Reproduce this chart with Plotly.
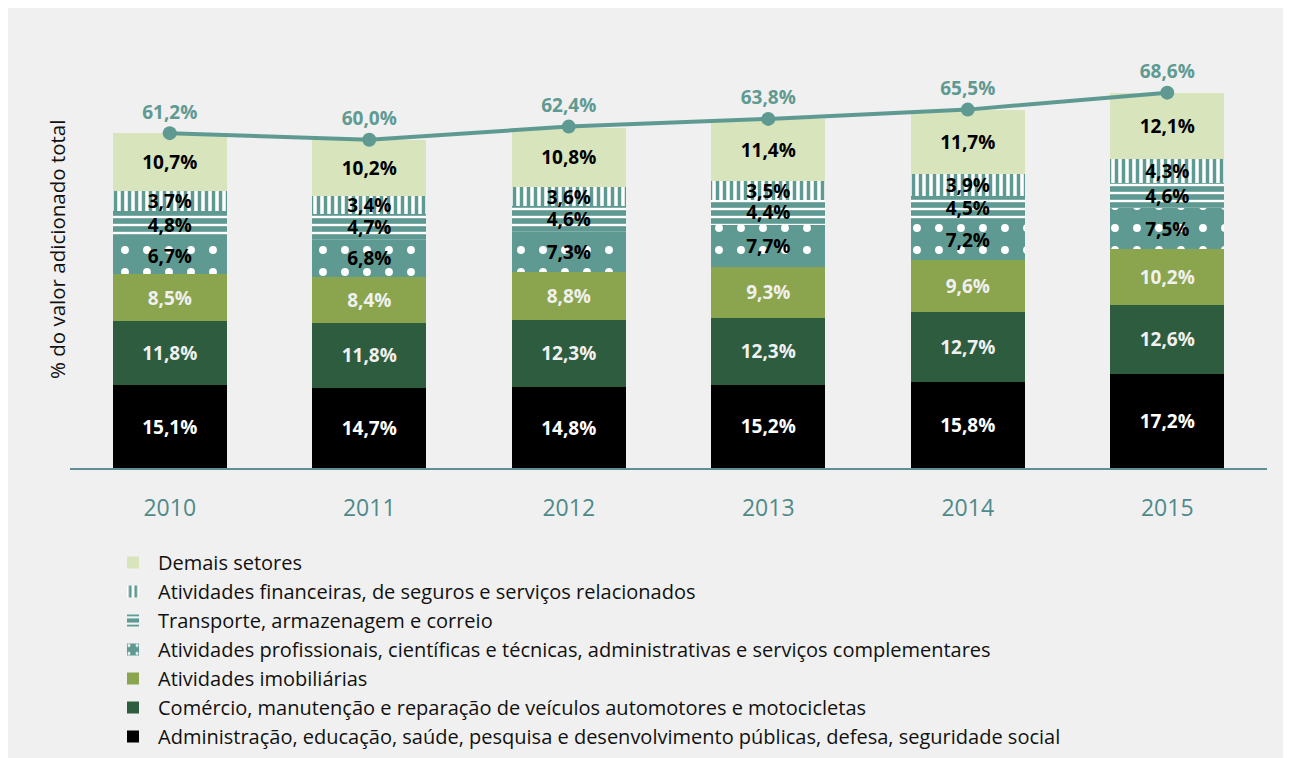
import plotly.graph_objects as go

years = ["2010", "2011", "2012", "2013", "2014", "2015"]

admin = [15.1, 14.7, 14.8, 15.2, 15.8, 17.2]
comercio = [11.8, 11.8, 12.3, 12.3, 12.7, 12.6]
imobiliarias = [8.5, 8.4, 8.8, 9.3, 9.6, 10.2]
profissionais = [6.7, 6.8, 7.3, 7.7, 7.2, 7.5]
transporte = [4.8, 4.7, 4.6, 4.4, 4.5, 4.6]
financeiras = [3.7, 3.4, 3.6, 3.5, 3.9, 4.3]
demais = [10.7, 10.2, 10.8, 11.4, 11.7, 12.1]
total = [61.2, 60.0, 62.4, 63.8, 65.5, 68.6]

names = [
    "Administração, educação, saúde, pesquisa e desenvolvimento públicas, defesa, seguridade social",
    "Comércio, manutenção e reparação de veículos automotores e motocicletas",
    "Atividades imobiliárias",
    "Atividades profissionais, científicas e técnicas, administrativas e serviços complementares",
    "Transporte, armazenagem e correio",
    "Atividades financeiras, de seguros e serviços relacionados",
    "Demais setores",
]

TEAL = "#5f9a92"
FONT = "Open Sans"

series = [admin, comercio, imobiliarias, profissionais, transporte, financeiras, demais]
colors = ["#000000", "#2e5c3e", "#8aa54e", TEAL, TEAL, "#ffffff", "#d8e4bc"]
textcolors = ["#ffffff", "#f0f0f0", "#f0f0f0", "#000000", "#000000", "#000000", "#000000"]
patterns = [
    None,
    None,
    None,
    dict(shape=".", fgcolor="#ffffff", bgcolor=TEAL, size=22, solidity=0.1,
         fillmode="overlay", fgopacity=1),
    dict(shape="-", fgcolor="#ffffff", bgcolor=TEAL, size=8, solidity=0.3,
         fillmode="overlay", fgopacity=1),
    dict(shape="|", fgcolor=TEAL, bgcolor="#ffffff", size=7, solidity=0.5,
         fillmode="overlay", fgopacity=1),
    None,
]

fig = go.Figure()
for vals, name, col, tcol, pat in zip(series, names, colors, textcolors, patterns):
    marker = dict(color=col, line=dict(width=0))
    if pat is not None:
        marker["pattern"] = pat
    fig.add_trace(go.Bar(
        x=years, y=vals, name=name, marker=marker,
        texttemplate="%{y:.1f}%", textposition="inside", insidetextanchor="middle",
        textangle=0, constraintext="none",
        textfont=dict(family=FONT, size=19, color=tcol, weight="bold"),
        hoverinfo="skip",
    ))

fig.add_trace(go.Scatter(
    x=years, y=total, mode="lines+markers+text", showlegend=False,
    line=dict(color=TEAL, width=4), marker=dict(color=TEAL, size=14),
    texttemplate="%{y:.1f}%", textposition="top center",
    textfont=dict(family=FONT, size=19, color=TEAL, weight="bold"),
    cliponaxis=False,
))

# page has an 8px body margin; work in window pixels and subtract it
OFF = 8
W, H = 1291 - OFF, 758 - OFF
L = 70 - OFF
T = 85 - OFF
pw = 1197
ph = 383
R = W - L - pw
B = H - T - ph
AX = 468 - OFF  # y of axis line in figure pixels


def py(win_y):
    return (AX - (win_y - OFF)) / ph


def px(win_x):
    return ((win_x - OFF) - L) / pw


fig.update_layout(
    width=W, height=H,
    margin=dict(l=L, r=R, t=T, b=B, autoexpand=False),
    barmode="stack", bargap=0.43,
    separators=",.",
    paper_bgcolor="#f0f0f0", plot_bgcolor="rgba(0,0,0,0)",
    font=dict(family=FONT, color="#111111"),
    showlegend=True,
    legend=dict(
        traceorder="reversed", orientation="v",
        x=px(108), xanchor="left",
        y=py(543), yanchor="top",
        font=dict(family=FONT, size=20, color="#111111"),
        bgcolor="rgba(0,0,0,0)", itemwidth=40, tracegroupgap=0,
    ),
    xaxis=dict(
        showgrid=False, ticks="", showline=True, linecolor="#5f8e94", linewidth=2,
        tickfont=dict(family=FONT, size=23, color="#4f8a8a"), ticklabelstandoff=18,
    ),
    yaxis=dict(
        range=[0, 70], showgrid=False, zeroline=False, showticklabels=False,
        showline=False, ticks="",
    ),
    annotations=[dict(
        text="% do valor adicionado total", textangle=-90, showarrow=False,
        xref="paper", yref="paper", x=px(57), y=py(250),
        xanchor="center", yanchor="middle",
        font=dict(family=FONT, size=20.5, color="#111111"),
    )],
)

fig.write_html("out.html")
